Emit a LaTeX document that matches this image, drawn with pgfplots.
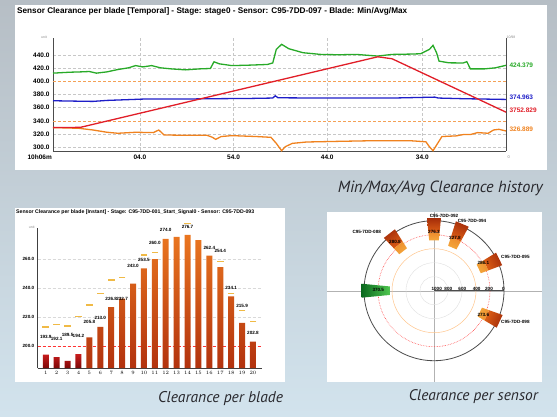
\documentclass[border=0pt]{standalone}
\usepackage{fontspec}
\setmainfont{Liberation Sans}
\newfontfamily\capfont{PT Sans}
\usepackage{graphicx}
\usepackage{pgfplots}
\usepackage{pgfplotstable}
\pgfplotsset{compat=1.18}
\usepgfplotslibrary{polar}

\definecolor{gLine}{RGB}{40,170,40}
\definecolor{bLine}{RGB}{30,30,200}
\definecolor{rLine}{RGB}{225,30,40}
\definecolor{oLine}{RGB}{240,130,30}
\definecolor{bgTop}{RGB}{182,190,197}
\definecolor{bgMid}{RGB}{198,212,221}
\definecolor{bgBot}{RGB}{210,227,237}
\definecolor{capcol}{RGB}{40,40,45}
\definecolor{barTop}{RGB}{234,118,32}
\definecolor{barBot}{RGB}{178,50,14}
\definecolor{redTop}{RGB}{200,28,28}
\definecolor{redBot}{RGB}{125,8,8}
\definecolor{maxMark}{RGB}{240,186,70}
\definecolor{wDark}{RGB}{165,45,10}
\definecolor{wMid}{RGB}{222,96,22}
\definecolor{wLight}{RGB}{245,168,60}
\definecolor{gDark}{RGB}{10,105,30}
\definecolor{gLight}{RGB}{80,200,80}

\newcommand\tkA{\fontsize{6.5}{7}\selectfont\bfseries}
\newcommand\tkB{\fontsize{4.6}{5}\selectfont\bfseries}

% ---------- panel 1 data (x in screen units, value in clearance units)
\pgfplotstableread{
x v
148 412.5
180 413.5
200 414
230 414.5
250 415
270 412.5
300 414.5
330 418
360 420.6
380 424
400 422
425 424
450 420.6
480 419
520 417.5
560 419
590 419.6
600 429.8
615 426.7
650 424
700 424.7
750 425.7
765 428
775 448.7
790 456.4
810 449.7
850 443.6
900 441
950 440.5
1000 441
1060 438.5
1100 441
1150 441.5
1180 442
1205 448.7
1215 454.8
1225 443.6
1232 430.8
1260 428.2
1300 428
1310 430
1320 419
1360 419
1390 420.6
1420 424.4
}\maxtab
\pgfplotstableread{
x v
148 370.5
200 370
260 369.5
300 371
400 373
500 373
600 373.6
700 374
765 374.6
772 378
780 375
900 374.6
1100 374.6
1220 376
1230 374.6
1300 373.6
1420 372.5
}\avgtab
\pgfplotstableread{
x v
148 329.6
225 330
1060 437.4
1100 434.4
1420 353.1
}\redtab
\pgfplotstableread{
x v
148 329.6
220 328.6
260 326
300 322.5
330 321
380 322.5
430 322
445 326
460 318.4
520 317.9
580 318
595 315
605 311.7
620 316
650 317.4
720 316
760 314.8
775 305.6
790 294.4
800 300.5
820 305.6
860 307.7
950 308.7
1050 309.7
1150 309.7
1195 308
1205 300.5
1215 294.4
1225 303
1240 316
1280 317
1300 319
1320 319
1340 322
1370 321
1385 326
1400 327
1420 324.5
}\mintab

% ---------- panel 2 data
\pgfplotstableread{
b v
1 193.9
2 192.1
3 189.5
4 194.2
}\bladered
\pgfplotstableread{
b v
5 205.8
6 213.0
7 226.8
8 232.7
9 243.0
10 253.5
11 260.0
12 274.0
13 275.4
14 276.7
15 273.2
16 262.4
17 254.4
18 234.1
19 215.9
20 202.8
}\bladeorange
\pgfplotstableread{
b m
1 213.0
2 215.0
3 213.7
4 220.2
5 228.2
6 236.3
7 245.5
8 247.3
10 262.8
11 264.4
14 284.9
17 258.2
18 236.3
19 224.3
20 216.6
}\blademax
\pgfplotstableread{
b ly lab
1 206.2 193.9
2 204.4 192.1
3 207.4 189.5
4 206.9 194.2
5 216.6 205.8
6 219.6 213.0
7 232.3 226.8
8 232.3 232.7
9 255.4 243.0
10 259.3 253.5
11 270.9 260.0
12 280.2 274.0
14 282.0 276.7
16 267.9 262.4
17 265.6 254.4
18 240.0 234.1
19 227.5 215.9
20 209.2 202.8
}\bladelab

\begin{document}
\begin{tikzpicture}[x=1pt,y=1pt]
\useasboundingbox (0,0) rectangle (557,416);
\shade[top color=bgTop, middle color=bgMid, bottom color=bgBot] (0,0) rectangle (557,416);

% ================= PANEL 1 =================
\fill[white] (15,246) rectangle (547,411);
\node[anchor=west, inner sep=0pt] at (17,405) {\resizebox{390pt}{!}{\bfseries Sensor Clearance per blade [Temporal] - Stage: stage0 - Sensor: C95-7DD-097 - Blade: Min/Avg/Max}};
\node[font=\fontsize{3.5}{4}\selectfont, text=black!45] at (44,379) {unit};
\node[font=\fontsize{3.5}{4}\selectfont, text=black!45] at (511,379) {10/98};
\begin{axis}[
  at={(53pt,265pt)}, anchor=south west,
  width=453pt, height=113pt, scale only axis,
  xmin=148, xmax=1420, ymin=294, ymax=466,
  axis x line*=bottom, axis y line*=left,
  axis line style={-, black!70, line width=0.7pt},
  xtick={392,655,918,1185}, xticklabels={04.0,54.0,44.0,34.0},
  ytick={300,320,340,360,380,400,420,440},
  yticklabels={300.0,320.0,340.0,360.0,380.0,400.0,420.0,440.0},
  tick label style={font=\tkA},
  major tick length=0pt,
  xmajorgrids, ymajorgrids, grid style={densely dashed, black!22},
  clip=false,
]
\draw[black!70, line width=0.7pt] (rel axis cs:1,0) -- (rel axis cs:1,1);
\addplot[oLine!75, densely dashed, line width=0.5pt] coordinates {(148,400) (1420,400)};
\addplot[oLine!75, densely dashed, line width=0.5pt] coordinates {(148,340) (1420,340)};
\addplot[gLine, line width=1.3pt] table[x=x,y=v]{\maxtab};
\addplot[bLine, line width=1.3pt] table[x=x,y=v]{\avgtab};
\addplot[oLine, line width=1.3pt] table[x=x,y=v]{\mintab};
\addplot[rLine, line width=1.3pt] table[x=x,y=v]{\redtab};
\node[anchor=west, font=\tkA, text=gLine] at (axis cs:1420,424.4) {424.379};
\node[anchor=west, font=\tkA, text=bLine] at (axis cs:1420,375.5) {374.963};
\node[anchor=west, font=\tkA, text=rLine] at (axis cs:1420,356) {3752.829};
\node[anchor=west, font=\tkA, text=oLine] at (axis cs:1420,326.9) {326.889};
\node[anchor=east, font=\tkA, inner sep=1pt] at (axis cs:148,285) {10h06m};
\node[font=\fontsize{4}{4}\selectfont, text=black!45] at (axis cs:1428,285) {0};
\end{axis}
\node[anchor=east, inner sep=0pt, text=capcol] at (543,228) {\resizebox{205pt}{!}{\capfont\itshape Min/Max/Avg Clearance history}};

% ================= PANEL 2 =================
\fill[white] (15,34) rectangle (285,208);
\node[anchor=west, inner sep=0pt] at (16,204) {\resizebox{238pt}{!}{\bfseries Sensor Clearance per blade [Instant] - Stage: C95-7DD-001\_Start\_Signal0 - Sensor: C95-7DD-093}};
\node[font=\fontsize{3.5}{4}\selectfont, text=black!45] at (31.7,188.3) {unit};
\begin{axis}[
  at={(37.7pt,48pt)}, anchor=south west,
  width=224pt, height=139.7pt, scale only axis,
  xmin=0.26, xmax=20.8, ymin=0, ymax=96.7,
  axis x line*=bottom, axis y line*=left,
  axis line style={-, black!75, line width=0.6pt},
  xtick={1,...,20},
  ytick={15.4,35.4,55.4,75.4}, yticklabels={200.0,220.0,240.0,260.0},
  tick label style={font=\tkB},
  major tick length=0pt,
  ymajorgrids, grid style={densely dashed, black!15},
  clip=false,
]
\addplot[red!80, densely dashed, line width=0.5pt] coordinates {(0.26,15.4) (20.8,15.4)};
\addplot[ybar, bar width=0.55, bar shift=0pt, draw=none, top color=redTop, bottom color=redBot]
  table[x=b, y expr=\thisrow{v}-184.6]{\bladered};
\addplot[ybar, bar width=0.55, bar shift=0pt, draw=none, top color=barTop, bottom color=barBot]
  table[x=b, y expr=\thisrow{v}-184.6]{\bladeorange};
\addplot[only marks, mark=-, mark size=3.3pt, mark options={line width=1.1pt, draw=maxMark}]
  table[x=b, y expr=\thisrow{m}-184.6]{\blademax};
\addplot[draw=none, mark=none, nodes near coords, point meta=explicit symbolic,
  every node near coord/.append style={anchor=center, font=\tkB, inner sep=0pt}]
  table[x=b, y expr=\thisrow{ly}-184.6, meta=lab]{\bladelab};
\end{axis}
\node[anchor=east, inner sep=0pt, text=capcol] at (283.3,17) {\resizebox{125pt}{!}{\capfont\itshape Clearance per blade}};

% ================= PANEL 3 =================
\fill[white] (327,34.3) rectangle (541.7,204.3);
\draw[black!30, line width=0.4pt] (434,34.3) -- (434,204.3);
\draw[black!30, line width=0.4pt] (327,125.3) -- (541.7,125.3);
\draw[black!12, line width=0.4pt] (434,125.3) circle (14);
\draw[black!12, line width=0.4pt] (434,125.3) circle (28);
\draw[orange!45, line width=0.5pt] (434,125.3) circle (42);
\draw[red!70, densely dotted, line width=0.6pt] (434,125.3) circle (56);
\begin{polaraxis}[
  at={(434pt,125.3pt)}, anchor=origin,
  width=140pt, height=140pt, scale only axis,
  xmin=0, xmax=360, ymin=0, ymax=1000,
  xtick=\empty, ytick=\empty,
  axis line style={black!70, line width=0.8pt},
  clip=false,
]
% top wedge (90 deg)
\addplot[draw=none, top color=wDark, bottom color=wMid] coordinates {(84.5,1040) (95.5,1040) (95.5,834.4) (84.5,834.4)};
\addplot[draw=none, top color=wMid!40!wLight, bottom color=wLight] coordinates {(84.5,834.4) (95.5,834.4) (95.5,723.7) (84.5,723.7)};
% 67 deg
\addplot[draw=none, top color=wDark, bottom color=wMid, shading angle=-23] coordinates {(61.5,1040) (72.5,1040) (72.5,800.9) (61.5,800.9)};
\addplot[draw=none, top color=wMid!40!wLight, bottom color=wLight, shading angle=-23] coordinates {(61.5,800.9) (72.5,800.9) (72.5,672.2) (61.5,672.2)};
% 26 deg
\addplot[draw=none, top color=wDark, bottom color=wMid, shading angle=-64] coordinates {(20.5,1040) (31.5,1040) (31.5,828.0) (20.5,828.0)};
\addplot[draw=none, top color=wMid!40!wLight, bottom color=wLight, shading angle=-64] coordinates {(20.5,828.0) (31.5,828.0) (31.5,713.9) (20.5,713.9)};
% -25 deg
\addplot[draw=none, top color=wDark, bottom color=wMid, shading angle=-115] coordinates {(329.5,1040) (340.5,1040) (340.5,836.2) (329.5,836.2)};
\addplot[draw=none, top color=wMid!40!wLight, bottom color=wLight, shading angle=-115] coordinates {(329.5,836.2) (340.5,836.2) (340.5,726.4) (329.5,726.4)};
% 128 deg
\addplot[draw=none, top color=wDark, bottom color=wMid, shading angle=38] coordinates {(122.5,1040) (133.5,1040) (133.5,831.5) (122.5,831.5)};
\addplot[draw=none, top color=wMid!40!wLight, bottom color=wLight, shading angle=38] coordinates {(122.5,831.5) (133.5,831.5) (133.5,719.2) (122.5,719.2)};
% green wedge 180 deg
\addplot[draw=none, left color=gDark, right color=gLight] coordinates {(174.5,1040) (185.5,1040) (185.5,629.5) (174.5,629.5)};
\end{polaraxis}
% radial scale labels
\foreach \xx/\tt in {436.7/1000,448.3/800,462.3/600,476.7/400,489/200,503.3/0}
  \node[font=\tkB, inner sep=0pt] at (\xx,126.8) {\tt};
% wedge value labels
\node[font=\tkB, inner sep=0pt] at (434,184.3) {276.3};
\node[font=\tkB, inner sep=0pt] at (455,177.7) {327.8};
\node[font=\tkB, inner sep=0pt] at (483.3,153.3) {286.1};
\node[font=\tkB, inner sep=0pt] at (483.3,101) {273.6};
\node[font=\tkB, inner sep=0pt] at (395,174.3) {280.8};
\node[font=\tkB, inner sep=0pt] at (378.3,126) {370.5};
% sensor names
\node[font=\tkB, inner sep=0pt] at (444,200.5) {C95-7DD-092};
\node[font=\tkB, inner sep=0pt] at (472,195.5) {C95-7DD-094};
\node[font=\tkB, inner sep=0pt, anchor=west] at (501,159.3) {C95-7DD-095};
\node[font=\tkB, inner sep=0pt, anchor=west] at (501,94.3) {C95-7DD-098};
\node[font=\tkB, inner sep=0pt] at (366.7,183.7) {C95-7DD-088};
\node[anchor=east, inner sep=0pt, text=capcol] at (538,19.3) {\resizebox{129pt}{!}{\capfont\itshape Clearance per sensor}};
\end{tikzpicture}
\end{document}
